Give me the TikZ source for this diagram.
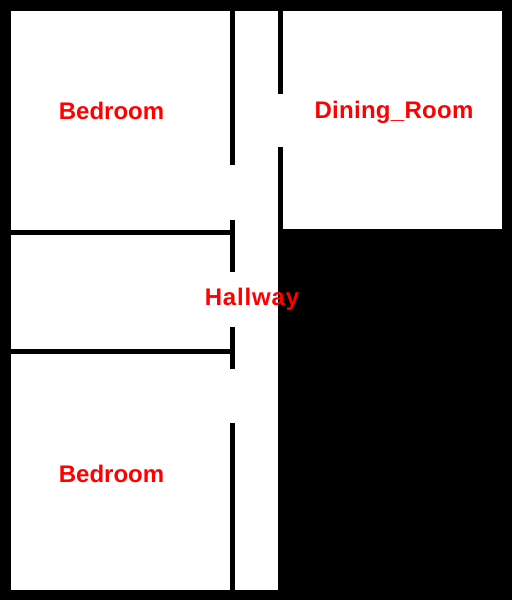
\documentclass[tikz,border=0pt]{standalone}
\usepackage{fontspec}
\setmainfont{Liberation Sans}
\tikzset{
  roomlabel/.style={text=red,font=\fontsize{24}{24}\selectfont\bfseries,anchor=base,inner sep=0pt},
  floor/.style={fill=white,draw=none}
}
\begin{document}
\begin{tikzpicture}[x=1pt,y=-1pt]
\useasboundingbox (0,0) rectangle (512,600);
\fill[black] (0,0) rectangle (512,600);
% rooms
\fill[floor] (11,11) rectangle (278,590);
\fill[floor] (278,11) rectangle (502,229);
% wall left of the hallway
\fill (230,11) rectangle (235,165);
\fill (230,220) rectangle (235,272);
\fill (230,327) rectangle (235,369);
\fill (230,423) rectangle (235,590);
% wall right of the hallway
\fill (278,11) rectangle (283,94);
\fill (278,147) rectangle (283,229);
% walls between the rooms
\fill (11,230) rectangle (230,235);
\fill (11,349) rectangle (230,354);
\node[roomlabel] (bedroomtop) at (111.5,119) {Bedroom};
\node[roomlabel] (diningroom) at (394,118) {\addfontfeature{LetterSpace=1.2}Dining\_Room};
\node[roomlabel] (hallway) at (252,305) {\addfontfeature{LetterSpace=3.5}Hallway};
\node[roomlabel] (bedroombottom) at (111.5,482) {Bedroom};
\end{tikzpicture}
\end{document}
